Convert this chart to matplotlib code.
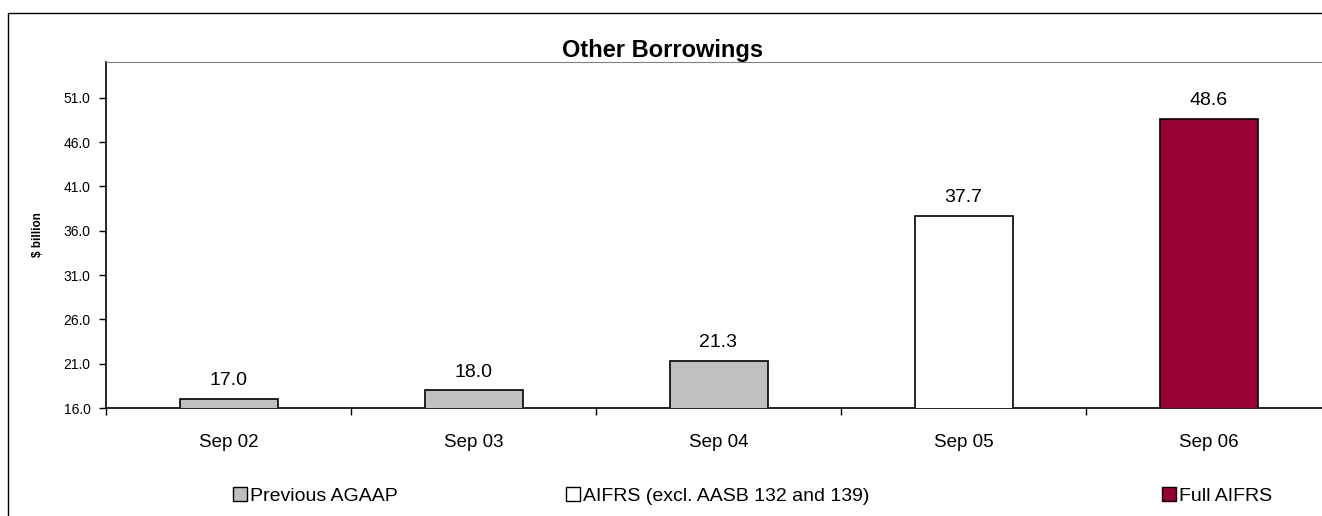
import matplotlib.pyplot as plt
from matplotlib.patches import Rectangle, Patch

plt.rcParams['font.family'] = ['Liberation Sans', 'DejaVu Sans']

periods = ['Sep 02', 'Sep 03', 'Sep 04', 'Sep 05', 'Sep 06']
values = [17.0, 18.0, 21.3, 37.7, 48.6]
basis = ['Previous AGAAP', 'Previous AGAAP', 'Previous AGAAP',
         'AIFRS (excl. AASB 132 and 139)', 'Full AIFRS']
basis_names = ['Previous AGAAP', 'AIFRS (excl. AASB 132 and 139)', 'Full AIFRS']
basis_colors = {'Previous AGAAP': '#C0C0C0',
                'AIFRS (excl. AASB 132 and 139)': '#FFFFFF',
                'Full AIFRS': '#990033'}
yticks = [16.0, 21.0, 26.0, 31.0, 36.0, 41.0, 46.0, 51.0]

fig = plt.figure(figsize=(13.22, 5.16), dpi=100)
# outer chart border (runs off the right and bottom edges)
fig.patches.append(Rectangle((8 / 1322, -0.05), 1.1, 0.9748 + 0.05,
                             transform=fig.transFigure, fill=False,
                             edgecolor='black', linewidth=1.0))
ax = fig.add_axes([106 / 1322, 1 - 408 / 516, 1225 / 1322, 346 / 516])

xs = range(len(periods))
ax.bar(xs, values, width=0.4, color=[basis_colors[b] for b in basis],
       edgecolor='black', linewidth=1.2, zorder=3)
for x, v in zip(xs, values):
    ax.annotate(f'{v:.1f}', (x, v), xytext=(0, 7), textcoords='offset points',
                ha='center', va='bottom', fontsize=14)

ax.set_ylim(16, 55.05)
ax.set_xlim(-0.5, 4.5)
ax.set_yticks(yticks)
ax.set_yticklabels([f'{t:.1f}' for t in yticks], fontsize=10)
ax.tick_params(axis='y', length=5, width=1, pad=6)

ax.set_xticks([i - 0.5 for i in range(len(periods) + 1)])
ax.set_xticklabels([])
ax.tick_params(axis='x', which='major', length=5, width=1, direction='out')
ax.set_xticks(list(xs), minor=True)
ax.set_xticklabels(periods, minor=True, fontsize=13.5)
ax.tick_params(axis='x', which='minor', length=0, pad=19)

ax.spines['right'].set_visible(False)
ax.spines['top'].set_color('#808080')
ax.spines['left'].set_linewidth(1.2)
ax.spines['bottom'].set_linewidth(1.2)

ax.set_ylabel('$ billion', fontsize=8.5, fontweight='bold', labelpad=14)

fig.text(0.5015, 1 - 51 / 516, 'Other Borrowings', ha='center', va='center',
         fontsize=17, fontweight='bold')

legend_x = [233, 566, 1162]
for name, lx in zip(basis_names, legend_x):
    h = Patch(facecolor=basis_colors[name], edgecolor='black', linewidth=1)
    fig.legend([h], [name], loc='center left',
               bbox_to_anchor=(lx / 1322, 1 - 496 / 516),
               frameon=False, fontsize=14, handlelength=0.7,
               handleheight=0.7, handletextpad=0.15,
               borderpad=0, borderaxespad=0)

fig.savefig('out.png', dpi=100)
